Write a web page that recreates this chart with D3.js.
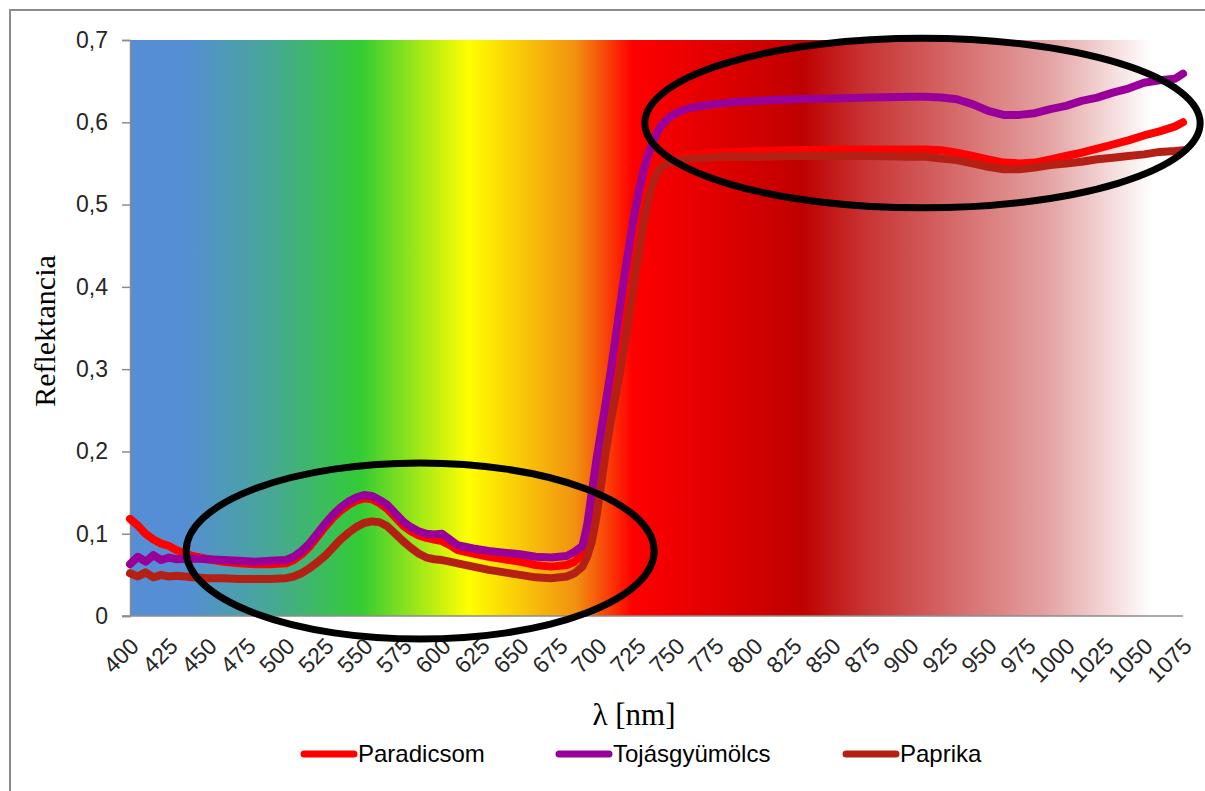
<!DOCTYPE html>
<html><head><meta charset="utf-8">
<script src="https://cdn.jsdelivr.net/npm/d3@7"></script>
<style>body{margin:0;background:#fff}</style>
</head><body>
<svg id="chart" width="1205" height="791"></svg>
<script>
// ---------- data ----------
const wavelengths = [400,405,410,415,420,425,430,
  440,450,460,470,480,490,500,
  505,510,515,520,525,530,535,540,545,550,555,560,565,570,575,580,585,590,595,600,605,610,
  620,630,640,650,660,670,680,
  685,690,
  693,696,699,702,705,708,711,714,717,720,723,726,729,732,735,738,741,
  745,750,755,760,
  770,780,790,800,
  825,850,875,900,
  910,920,930,940,950,960,970,980,990,1000,1010,1020,1030,1040,1050,1060,1070,
  1075];

const paradicsom = [.118,.110,.100,.093,.088,.085,.080,
  .073,.069,.066,.064,.063,.063,.064,
  .068,.075,.084,.096,.108,.119,.128,.135,.140,.143,.142,.137,.130,.120,.110,.103,.098,.095,.093,.091,.086,.080,
  .076,.072,.069,.066,.062,.060,.062,
  .066,.075,
  .088,.11,.14,.175,.21,.245,.28,.315,.35,.385,.425,.46,.49,.515,.53,.542,.549,
  .553,.556,.558,.560,
  .562,.563,.564,.565,
  .566,.567,.567,.567,
  .567,.566,.563,.559,.555,.551,.550,.551,.555,.559,.563,.568,.573,.578,.584,.589,.595,
  .600];

const tojasgyumolcs = [.063,.072,.066,.074,.068,.071,.069,
  .070,.069,.068,.067,.066,.067,.068,
  .072,.079,.088,.100,.112,.123,.132,.139,.144,.147,.146,.141,.135,.125,.115,.108,.103,.100,.099,.100,.093,.086,
  .082,.079,.077,.075,.072,.071,.073,
  .078,.085,
  .11,.15,.19,.225,.26,.295,.335,.375,.415,.45,.485,.515,.54,.56,.575,.588,.597,
  .605,.611,.615,.618,
  .621,.623,.625,.626,
  .628,.629,.630,.631,
  .631,.630,.628,.622,.614,.609,.609,.611,.616,.620,.626,.630,.636,.641,.648,.651,.653,
  .659];

const paprika = [.052,.048,.053,.047,.050,.048,.049,
  .047,.046,.046,.045,.045,.045,.046,
  .048,.052,.058,.065,.073,.083,.093,.101,.108,.113,.115,.114,.109,.100,.091,.083,.076,.071,.069,.068,.066,.064,
  .060,.056,.053,.050,.047,.046,.048,
  .052,.060,
  .072,.090,.12,.16,.20,.235,.265,.295,.33,.365,.405,.44,.475,.505,.525,.538,.546,
  .550,.553,.555,.556,
  .557,.558,.558,.558,
  .559,.559,.559,.558,
  .558,.556,.554,.550,.546,.543,.543,.545,.548,.550,.552,.555,.557,.559,.561,.564,.565,
  .566];

const seriesNames = ["Paradicsom", "Tojásgyümölcs", "Paprika"];
const seriesValues = [paradicsom, tojasgyumolcs, paprika];
const seriesColors = ["#FF0000", "#990099", "#B52015"];

const xTickValues = [400,425,450,475,500,525,550,575,600,625,650,675,700,725,750,775,800,825,850,875,900,925,950,975,1000,1025,1050,1075];
const yTickValues = [0,0.1,0.2,0.3,0.4,0.5,0.6,0.7];
const yTickLabels = ["0","0,1","0,2","0,3","0,4","0,5","0,6","0,7"];

// background spectrum colour stops (wavelength, colour)
const spectrumLambda = [400,435,490,548,617,686,722,765,831,870,929,989,1055,1075];
const spectrumColor  = ["#558ED5","#558ED5","#47A796","#33CC33","#FFFF00","#F29010","#FF0000","#E60000","#BF0000","#C83232","#D66A6A","#E4A3A3","#FFFFFF","#FFFFFF"];

// highlighted regions (ellipses) in data units: centre wavelength, centre reflectance, radii
const highlightLambda = [586, 908];
const highlightRefl   = [0.079, 0.599];
const highlightRLambda = [150, 178];
const highlightRRefl   = [0.107, 0.103];

// ---------- layout ----------
const svg = d3.select("#chart");
const L = 130, R = 1183, T = 40, B = 616;
const x = d3.scaleLinear().domain([400, 1075]).range([L, R]);
const y = d3.scaleLinear().domain([0, 0.7]).range([B, T]);

// outer frame
svg.append("rect").attr("x", 10).attr("y", 10).attr("width", 1210).attr("height", 800)
  .attr("fill", "none").attr("stroke", "#8c8c8c").attr("stroke-width", 2);

// gradient
const defs = svg.append("defs");
const grad = defs.append("linearGradient").attr("id", "spec")
  .attr("gradientUnits", "userSpaceOnUse")
  .attr("x1", x(400)).attr("x2", x(1075)).attr("y1", 0).attr("y2", 0);
spectrumLambda.forEach((l, i) => {
  grad.append("stop").attr("offset", (l - 400) / (1075 - 400)).attr("stop-color", spectrumColor[i]);
});
svg.append("rect").attr("x", x(400)).attr("y", y(0.7))
  .attr("width", x(1075) - x(400)).attr("height", y(0) - y(0.7))
  .attr("fill", "url(#spec)");

// y axis
const yAxis = d3.axisLeft(y).tickValues(yTickValues).tickSize(8).tickPadding(14)
  .tickFormat((d, i) => yTickLabels[i]);
const gy = svg.append("g").attr("transform", `translate(${L},0)`).call(yAxis);
gy.select(".domain").attr("stroke", "#8c8c8c").attr("stroke-width", 1.5);
gy.selectAll(".tick line").attr("stroke", "#8c8c8c").attr("stroke-width", 1.5);
gy.selectAll(".tick text").attr("font-family", "Liberation Sans, Arial, sans-serif")
  .attr("font-size", 23).attr("fill", "#262626");

// x axis
const xAxis = d3.axisBottom(x).tickValues(xTickValues).tickSize(0).tickSizeOuter(0).tickFormat(d => d);
const gx = svg.append("g").attr("transform", `translate(0,${B})`).call(xAxis);
gx.select(".domain").attr("stroke", "#8c8c8c").attr("stroke-width", 1.5)
  .attr("d", `M${L - 8},0H${R}`);
gx.selectAll(".tick text")
  .attr("font-family", "Liberation Sans, Arial, sans-serif").attr("font-size", 23).attr("fill", "#262626")
  .attr("text-anchor", "end").attr("dy", "0.35em").attr("y", 0)
  .attr("transform", "translate(4,26) rotate(-45)");

// series lines
const line = d3.line().x((d, i) => x(wavelengths[i])).y(d => y(d)).curve(d3.curveLinear);
seriesValues.forEach((vals, k) => {
  svg.append("path").datum(vals).attr("d", line)
    .attr("fill", "none").attr("stroke", seriesColors[k]).attr("stroke-width", 8)
    .attr("stroke-linejoin", "round").attr("stroke-linecap", "round");
});

// highlight ellipses
highlightLambda.forEach((l, i) => {
  svg.append("ellipse")
    .attr("cx", x(l)).attr("cy", y(highlightRefl[i]))
    .attr("rx", x(l + highlightRLambda[i]) - x(l))
    .attr("ry", y(0) - y(highlightRRefl[i]))
    .attr("fill", "none").attr("stroke", "#000").attr("stroke-width", 7);
});

// axis titles
svg.append("text").attr("transform", "translate(55,331) rotate(-90)")
  .attr("text-anchor", "middle").attr("font-family", "Liberation Serif, Times New Roman, serif")
  .attr("font-size", 30).attr("fill", "#000").text("Reflektancia");
svg.append("text").attr("x", 634).attr("y", 725)
  .attr("text-anchor", "middle").attr("font-family", "Liberation Serif, Times New Roman, serif")
  .attr("font-size", 31).attr("fill", "#000").text("λ [nm]");

// legend
const legendX = [301, 556, 843];
const legendY = 754;
seriesNames.forEach((n, i) => {
  const g = svg.append("g").attr("transform", `translate(${legendX[i]},${legendY})`);
  g.append("line").attr("x1", 3).attr("x2", 53).attr("y1", 0).attr("y2", 0)
    .attr("stroke", seriesColors[i]).attr("stroke-width", 7).attr("stroke-linecap", "round");
  g.append("text").attr("x", 57).attr("y", 0).attr("dy", "0.35em")
    .attr("font-family", "Liberation Sans, Arial, sans-serif").attr("font-size", 24)
    .attr("fill", "#000").text(n);
});
</script>
</body></html>
